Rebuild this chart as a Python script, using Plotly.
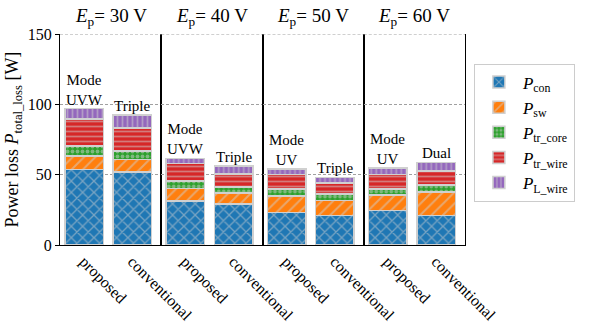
import plotly.graph_objects as go
from plotly.subplots import make_subplots

# Input voltage of each group and the two compared methods
voltages = [30, 40, 50, 60]
methods = ["proposed", "conventional"]

# Loss breakdown [W]: one [proposed, conventional] pair per voltage
p_con = [[53.5, 51.8], [31.2, 29.1], [23.2, 21.1], [24.4, 20.8]]
p_sw = [[9.9, 9.0], [9.0, 8.0], [11.6, 10.4], [11.1, 17.0]]
p_tr_core = [[6.9, 6.1], [5.4, 4.3], [4.9, 4.7], [4.2, 5.0]]
p_tr_wire = [[19.1, 16.4], [12.4, 9.0], [10.5, 8.0], [10.5, 9.9]]
p_l_wire = [[7.6, 9.0], [3.5, 5.7], [3.7, 3.8], [4.7, 6.0]]

# Operating mode printed above each bar
mode_labels = [
    ["Mode<br>UVW", "Triple"],
    ["Mode<br>UVW", "Triple"],
    ["Mode<br>UV", "Triple"],
    ["Mode<br>UV", "Dual"],
]

FONT = "Liberation Serif"
EDGE = "#d0d0d0"
HATCH = "#d0d0d0"
GRID = "#a0a0a0"

components = [
    ("<i>P</i><sub>con</sub>", p_con, "#1f77b4", "x", 8, 0.3),
    ("<i>P</i><sub>sw</sub>", p_sw, "#ff7f0e", "/", 8, 0.25),
    ("<i>P</i><sub>tr_core</sub>", p_tr_core, "#2ca02c", ".", 5, 0.45),
    ("<i>P</i><sub>tr_wire</sub>", p_tr_wire, "#d62728", "-", 5, 0.35),
    ("<i>P</i><sub>L_wire</sub>", p_l_wire, "#9467bd", "|", 5, 0.35),
]

fig = make_subplots(rows=1, cols=4, shared_yaxes=True, horizontal_spacing=0)

for col, v in enumerate(voltages, start=1):
    i = col - 1
    for name, vals, color, shape, size, sol in components:
        fig.add_trace(
            go.Bar(
                x=methods,
                y=vals[i],
                name=name,
                width=0.8,
                legendgroup=name,
                showlegend=(col == 1),
                marker=dict(
                    color=color,
                    line=dict(color=EDGE, width=1.5),
                    pattern=dict(shape=shape, fgcolor=HATCH, size=size, solidity=sol),
                ),
            ),
            row=1,
            col=col,
        )
    # mode label above each stacked bar
    for j, m in enumerate(methods):
        total = sum(comp[1][i][j] for comp in components)
        fig.add_annotation(
            x=m, y=total, text=mode_labels[i][j], showarrow=False,
            yanchor="bottom", yshift=-1,
            font=dict(family=FONT, size=15, color="black"),
            row=1, col=col,
        )
    # panel heading
    xref = "x domain" if col == 1 else f"x{col} domain"
    fig.add_annotation(
        text=f"<i>E</i><sub>p</sub>= {v} V", xref=xref, yref="paper",
        x=0.5, y=1.0, yanchor="bottom", yshift=3, showarrow=False,
        font=dict(family=FONT, size=19, color="black"),
    )
    # dashed guide along the top of each panel (y = 150)
    fig.add_shape(
        type="line", xref=xref, yref="y", x0=0, x1=1, y0=150, y1=150,
        line=dict(color=GRID, width=1, dash="3px,2px"),
    )

fig.update_xaxes(
    range=[-0.5, 1.6], showline=True, linecolor="black", linewidth=1,
    ticks="", tickangle=45, showgrid=False, zeroline=False, automargin=False,
    tickfont=dict(family=FONT, size=16, color="black"),
)
fig.update_yaxes(
    range=[0, 150], tickvals=[0, 50, 100, 150],
    showgrid=True, gridcolor=GRID, griddash="3px,2px", gridwidth=1,
    showline=True, linecolor="black", linewidth=1, mirror=True, zeroline=False,
    automargin=False,
    tickfont=dict(family=FONT, size=16, color="black"),
)
fig.update_yaxes(
    ticks="outside", ticklen=4, tickcolor="black",
    title=dict(text="Power loss <i>P</i><sub>total_loss</sub> [W]",
               font=dict(family=FONT, size=18, color="black"), standoff=4),
    row=1, col=1,
)

fig.update_layout(
    width=590, height=325,
    margin=dict(l=60, r=125, t=34, b=80),
    barmode="stack",
    plot_bgcolor="white", paper_bgcolor="white",
    font=dict(family=FONT, color="black"),
    legend=dict(
        x=1.022, y=0.86, xanchor="left", yanchor="top",
        bgcolor="white", bordercolor="#cccccc", borderwidth=1,
        font=dict(family=FONT, size=17, color="black"),
        traceorder="normal", tracegroupgap=4, itemwidth=38,
    ),
)

fig.write_html("out.html")
